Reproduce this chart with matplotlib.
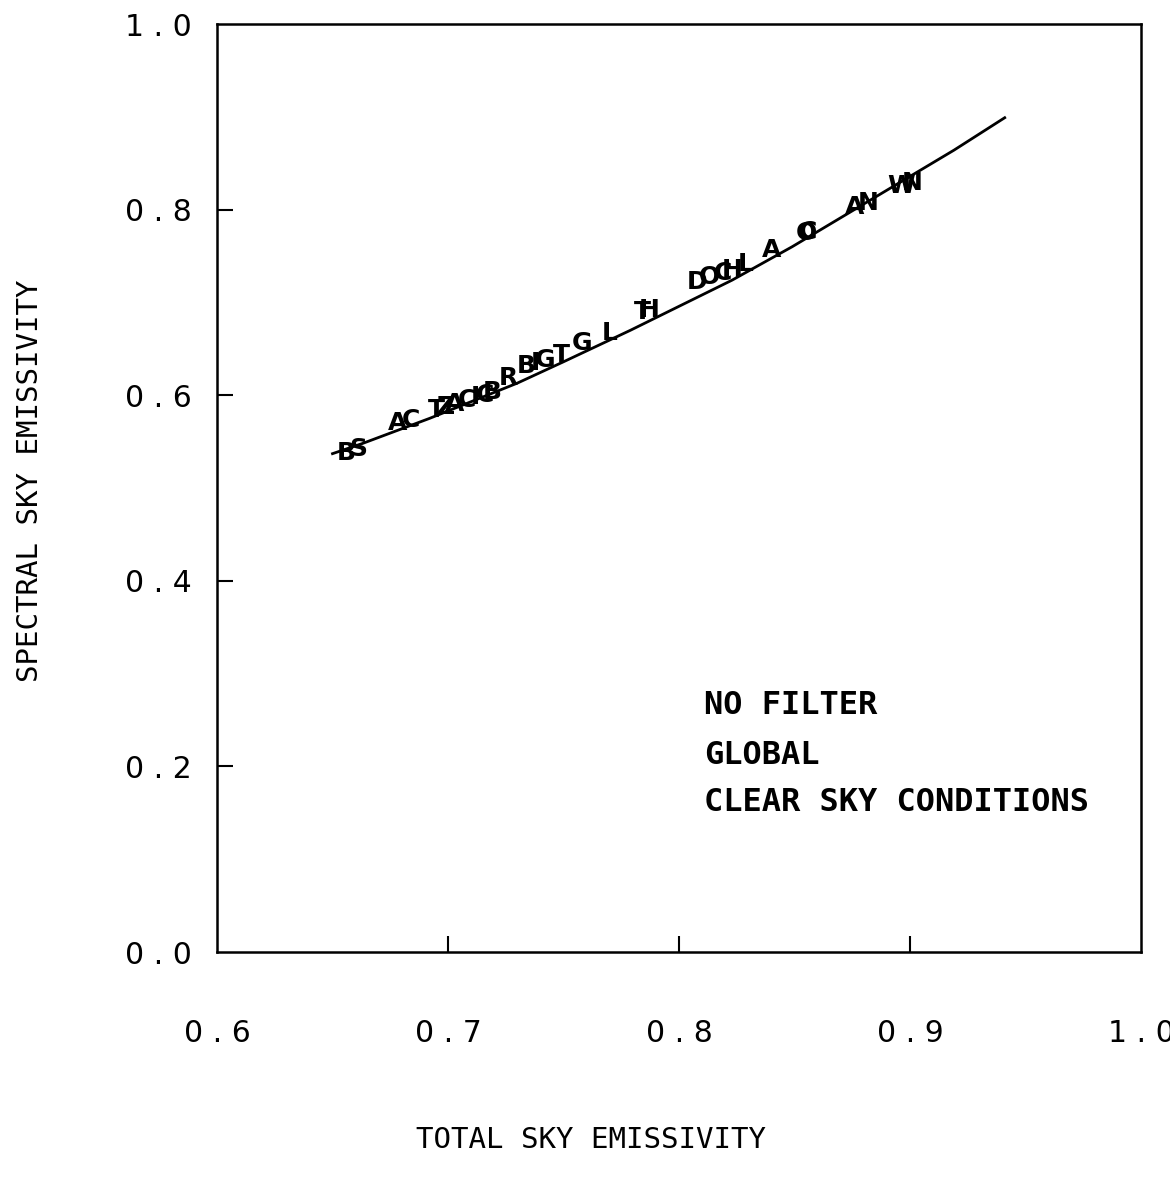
import matplotlib
matplotlib.use("Agg")
import matplotlib.pyplot as plt

# Fitted curve
line_x = [0.650, 0.663, 0.692, 0.730, 0.750, 0.779, 0.823, 0.849, 0.919, 0.941]
line_y = [0.537, 0.548, 0.575, 0.613, 0.636, 0.670, 0.724, 0.760, 0.864, 0.899]

# Letter-coded station points
pt_labels = ["B", "S", "A", "C", "T", "Z", "A", "C", "I", "C", "B", "R",
             "B", "I", "G", "T", "G", "L", "T", "H", "D", "O", "C", "H",
             "L", "A", "O", "C", "A", "N", "W", "N"]
pt_x = [0.656, 0.661, 0.678, 0.684, 0.695, 0.699, 0.703, 0.708, 0.712, 0.716, 0.719, 0.726,
        0.734, 0.738, 0.742, 0.749, 0.758, 0.770, 0.784, 0.787, 0.808, 0.813, 0.819, 0.823,
        0.829, 0.840, 0.855, 0.856, 0.876, 0.882, 0.896, 0.901]
pt_y = [0.538, 0.542, 0.570, 0.573, 0.584, 0.587, 0.591, 0.595, 0.598, 0.600, 0.603, 0.618,
        0.632, 0.635, 0.638, 0.643, 0.656, 0.667, 0.690, 0.692, 0.722, 0.727, 0.732, 0.735,
        0.741, 0.757, 0.775, 0.776, 0.803, 0.807, 0.825, 0.829]

x_ticks = [0.6, 0.7, 0.8, 0.9, 1.0]
x_ticklabels = ["0 . 6", "0 . 7", "0 . 8", "0 . 9", "1 . 0"]
y_ticks = [0.0, 0.2, 0.4, 0.6, 0.8, 1.0]
y_ticklabels = ["0 . 0", "0 . 2", "0 . 4", "0 . 6", "0 . 8", "1 . 0"]

notes = ["NO FILTER", "GLOBAL", "CLEAR SKY CONDITIONS"]

fig = plt.figure(figsize=(11.70, 11.87), dpi=100)
ax = fig.add_axes([217/1170, 1 - 952/1187, (1141-217)/1170, (952-24)/1187])
ax.set_xlim(0.6, 1.0)
ax.set_ylim(0.0, 1.0)

ax.plot(line_x, line_y, color="black", lw=2.0)
for lab, xx, yy in zip(pt_labels, pt_x, pt_y):
    ax.text(xx, yy, lab, ha="center", va="center", fontsize=18,
            family="DejaVu Sans", fontweight="bold", color="black")

ax.set_xticks(x_ticks)
ax.set_xticklabels(x_ticklabels)
ax.set_yticks(y_ticks)
ax.set_yticklabels(y_ticklabels)
ax.tick_params(axis="both", direction="in", length=11.5, width=1.5,
               labelsize=21.5, color="black")
ax.tick_params(axis="x", pad=48)
ax.tick_params(axis="y", pad=18)
for axis in (ax.xaxis, ax.yaxis):
    ticks = axis.get_major_ticks()
    for t in (ticks[0], ticks[-1]):
        t.tick1line.set_visible(False)
        t.tick2line.set_visible(False)
for s in ax.spines.values():
    s.set_linewidth(1.8)

ty = [0.266, 0.212, 0.161]
for t, yy in zip(notes, ty):
    ax.text(0.8108, yy, t, ha="left", va="center", fontsize=23,
            family="DejaVu Sans Mono", fontweight="bold")

fig.text(591/1170, 1 - 1140/1187, "TOTAL SKY EMISSIVITY", ha="center", va="center",
         fontsize=21, family="DejaVu Sans Mono")
fig.text(30/1170, 1 - 481/1187, "SPECTRAL SKY EMISSIVITY", ha="center", va="center",
         rotation=90, fontsize=21, family="DejaVu Sans Mono")

fig.savefig("out.png", dpi=100, facecolor="white")
